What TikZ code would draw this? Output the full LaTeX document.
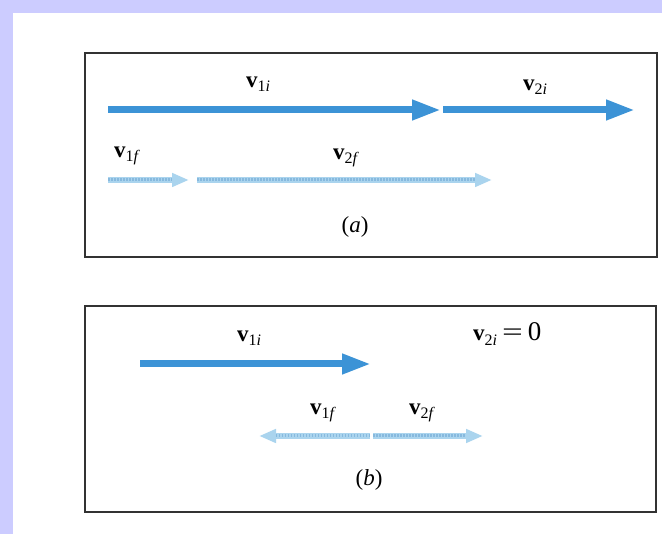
\documentclass[tikz,border=0pt]{standalone}
\usepackage{fontspec}
\setmainfont{Liberation Serif}
\usetikzlibrary{arrows.meta}
\definecolor{lav}{RGB}{204,204,255}
\definecolor{vblue}{RGB}{60,147,214}
\definecolor{vlight}{RGB}{170,212,238}
\definecolor{vlightd}{RGB}{135,185,222}
\definecolor{frame}{RGB}{50,50,50}
\tikzset{
  frm/.style={draw=frame, line width=2pt},
  vinit/.style={draw=vblue, line width=7pt, -{Triangle[length=29pt,width=19pt]}},
  vfin/.style={draw=vlight, line width=6pt, -{Triangle[length=17pt,width=13pt]}},
  vfinpat/.style={draw=vlightd, line width=3pt, dash pattern=on 1.5pt off 1.5pt},
  lbl/.style={font=\fontsize{23}{23}\selectfont, inner sep=0pt},
}
\newcommand{\vlab}[1]{{\bfseries v}\raisebox{-0.4ex}{\fontsize{16}{16}\selectfont #1}}
\begin{document}
\begin{tikzpicture}[x=1pt,y=-1pt]
\useasboundingbox (0,0) rectangle (662,534);
\fill[lav] (0,0) rectangle (662,534);
\fill[white] (13,13) rectangle (662,534);
% frames
\node[frm, minimum width=572pt, minimum height=204pt, anchor=north west, inner sep=0pt] (boxa) at (84,52) {};
\node[frm, minimum width=571pt, minimum height=206pt, anchor=north west, inner sep=0pt] (boxb) at (84,305) {};
% (a)
\coordinate (a1s) at (108,110);
\coordinate (a1e) at (441,110);
\coordinate (a2s) at (443,110);
\coordinate (a2e) at (635,110);
\draw[vinit] (a1s) -- (a1e);
\draw[vinit] (a2s) -- (a2e);
\node[lbl] (la1i) at (258,84) {\vlab{1\itshape i}};
\node[lbl] (la2i) at (535,87) {\vlab{2\itshape i}};
\coordinate (af1s) at (108,180);
\coordinate (af1e) at (189,180);
\coordinate (af2s) at (197,180);
\coordinate (af2e) at (492,180);
\draw[vfin] (af1s) -- (af1e);
\draw[vfinpat] (af1s) -- ([xshift=-17pt]af1e);
\draw[vfin] (af2s) -- (af2e);
\draw[vfinpat] (af2s) -- ([xshift=-17pt]af2e);
\node[lbl] (la1f) at (126,156) {\vlab{1\itshape f}};
\node[lbl] (la2f) at (345,158) {\vlab{2\itshape f}};
\node[lbl] (capa) at (355,227) {(\itshape a\upshape)};
% (b)
\coordinate (b1s) at (140,364);
\coordinate (b1e) at (371,364);
\draw[vinit] (b1s) -- (b1e);
\node[lbl] (lb1i) at (249,338) {\vlab{1\itshape i}};
\node[lbl, anchor=west] (lb2i) at (473,334) {\vlab{2\itshape i}\hspace{5pt}\scalebox{1.6}[1.1]{=}\hspace{5pt}{\fontsize{27}{27}\selectfont 0}};
\coordinate (bf1s) at (370,436);
\coordinate (bf1e) at (259,436);
\coordinate (bf2s) at (373,436);
\coordinate (bf2e) at (483,436);
\draw[vfin] (bf1s) -- (bf1e);
\draw[vfinpat] (bf1s) -- ([xshift=17pt]bf1e);
\draw[vfin] (bf2s) -- (bf2e);
\draw[vfinpat] (bf2s) -- ([xshift=-17pt]bf2e);
\node[lbl] (lb1f) at (322,413) {\vlab{1\itshape f}};
\node[lbl] (lb2f) at (421,413) {\vlab{2\itshape f}};
\node[lbl] (capb) at (369,480) {(\itshape b\upshape)};
\end{tikzpicture}
\end{document}
